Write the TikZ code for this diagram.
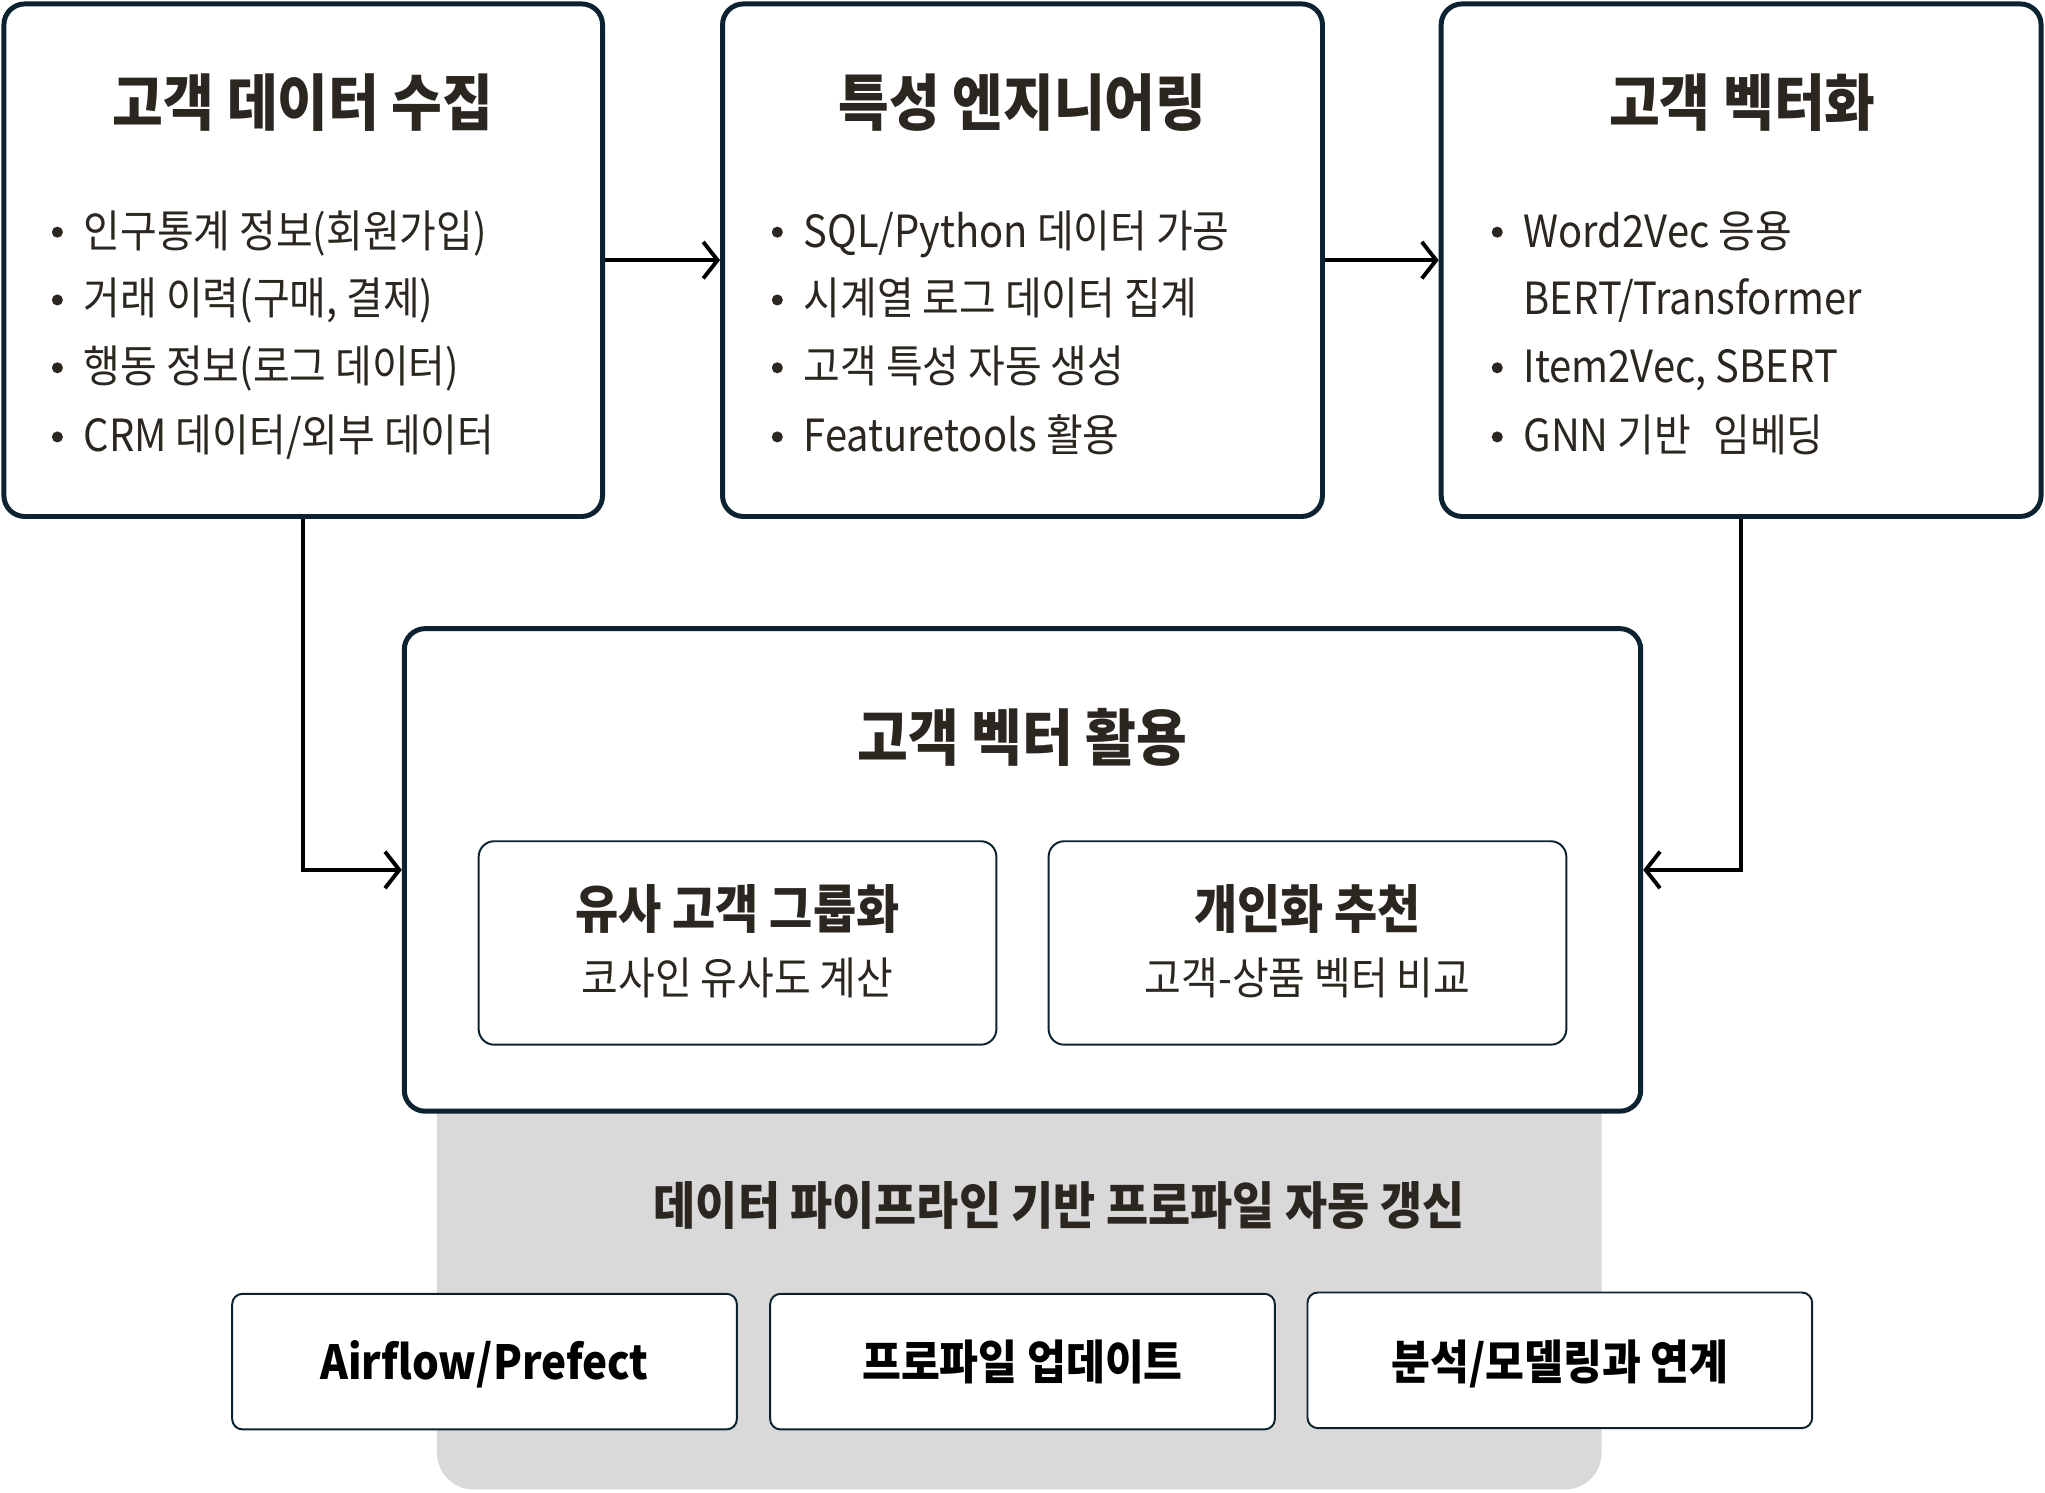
\documentclass[tikz,border=0pt]{standalone}
\usepackage{fontspec}
\setmainfont{Noto Sans CJK KR}[FakeStretch=0.9]
\usetikzlibrary{arrows.meta}
\definecolor{edge}{HTML}{0B2231}
\definecolor{ink}{HTML}{2B2620}
\definecolor{band}{HTML}{D9D9D9}
\newcommand{\fs}[1]{\fontsize{#1}{#1}\selectfont}
\begin{document}
\begin{tikzpicture}[x=1pt,y=-1pt,
  bigbox/.style={draw=edge, line width=3.8pt, rounded corners=16pt, fill=white, inner sep=0pt},
  subbox/.style={draw=edge, line width=1.5pt, rounded corners=12pt, fill=white, inner sep=0pt},
  toolbox/.style={draw=edge, line width=1.5pt, rounded corners=8pt, fill=white, inner sep=0pt,
    minimum width=387pt, minimum height=104pt},
  tooltext/.style={font=\bfseries\fs{36}, text=black, inner sep=0pt, text height=0.8em, text depth=0.2em, yshift=-10pt},
  bandbox/.style={fill=band, rounded corners=28pt, inner sep=0pt},
  titletext/.style={font=\bfseries\fs{47}, text=ink, inner sep=0pt, text height=0.8em, text depth=0.2em, yshift=-13pt},
  itemtext/.style={font=\fs{34}, text=ink, inner sep=0pt, anchor=west, text height=0.8em, text depth=0.2em, yshift=-9.5pt},
  dot/.style={circle, fill=ink, inner sep=0pt, minimum size=8.5pt},
  subtitle/.style={font=\bfseries\fs{40}, text=ink, inner sep=0pt, text height=0.8em, text depth=0.2em, yshift=-11pt},
  bandtitle/.style={font=\bfseries\fs{39}, text=ink, inner sep=0pt, text height=0.8em, text depth=0.2em, yshift=-11pt},
  subtext/.style={font=\fs{34}, text=ink, inner sep=0pt, text height=0.8em, text depth=0.2em, yshift=-9.5pt},
  conn/.style={draw=black, line width=3pt, -{Straight Barb[length=11pt,width=28pt,line width=3pt]}}
]
\useasboundingbox (0,0) rectangle (1568,1144);
\fill[white] (0,0) rectangle (1568,1144);

% gray band
\node[bandbox, minimum width=893pt, minimum height=440pt] (band) at (781.5,922) {};

% top boxes
\node[bigbox, minimum width=459pt, minimum height=393pt] (b1) at (232.5,199.5) {};
\node[bigbox, minimum width=460pt, minimum height=393pt] (b2) at (784,199.5) {};
\node[bigbox, minimum width=460pt, minimum height=393pt] (b3) at (1335,199.5) {};

\node[titletext] (t1) at (232.5,80) {고객 데이터 수집};
\node[titletext] (t2) at (784,80) {특성 엔지니어링};
\node[titletext] (t3) at (1336,80) {고객 벡터화};

% box 1 items
\node[dot] (d11) at (44,178) {};
\node[dot] (d12) at (44,230) {};
\node[dot] (d13) at (44,282) {};
\node[dot] (d14) at (44,335) {};
\node[itemtext] (i11) at (64,177) {인구통계 정보(회원가입)};
\node[itemtext] (i12) at (64,229) {거래 이력(구매, 결제)};
\node[itemtext] (i13) at (64,281) {행동 정보(로그 데이터)};
\node[itemtext] (i14) at (64,334) {CRM 데이터/외부 데이터};

% box 2 items
\node[dot] (d21) at (596,178) {};
\node[dot] (d22) at (596,230) {};
\node[dot] (d23) at (596,282) {};
\node[dot] (d24) at (596,335) {};
\node[itemtext] (i21) at (616,177) {SQL/Python 데이터 가공};
\node[itemtext] (i22) at (616,229) {시계열 로그 데이터 집계};
\node[itemtext] (i23) at (616,281) {고객 특성 자동 생성};
\node[itemtext] (i24) at (616,334) {Featuretools 활용};

% box 3 items
\node[dot] (d31) at (1148,178) {};
\node[dot] (d33) at (1148,282) {};
\node[dot] (d34) at (1148,335) {};
\node[itemtext] (i31) at (1168,177) {Word2Vec 응용};
\node[itemtext] (i32) at (1168,229) {BERT/Transformer};
\node[itemtext] (i33) at (1168,281) {Item2Vec, SBERT};
\node[itemtext] (i34) at (1168,334) {GNN 기반\hspace{0.3em} 임베딩};

% usage box
\node[bigbox, minimum width=948pt, minimum height=370pt] (b4) at (784,667) {};
\node[titletext] (t4) at (784,567) {고객 벡터 활용};
\node[subbox, minimum width=397pt, minimum height=156pt] (s1) at (565.5,723) {};
\node[subbox, minimum width=397pt, minimum height=156pt] (s2) at (1002.5,723) {};
\node[subtitle] (s1t) at (565.5,698) {유사 고객 그룹화};
\node[subtext] (s1s) at (565.5,750) {코사인 유사도 계산};
\node[subtitle] (s2t) at (1002.5,698) {개인화 추천};
\node[subtext] (s2s) at (1002.5,750) {고객-상품 벡터 비교};

% band content
\node[bandtitle] (bt) at (812,925) {데이터 파이프라인 기반 프로파일 자동 갱신};
\node[toolbox] (k1) at (371.5,1044) {};
\node[toolbox] (k2) at (784,1044) {};
\node[toolbox] (k3) at (1196,1043) {};
\node[tooltext] (k1t) at (371.5,1045) {Airflow/Prefect};
\node[tooltext] (k2t) at (784,1045) {프로파일 업데이트};
\node[tooltext] (k3t) at (1196,1045) {분석/모델링과 연계};

% connectors
\draw[conn] (b1.east) -- (b2.west);
\draw[conn] (b2.east) -- (b3.west);
\draw[conn] (b1.south) |- (b4.west);
\draw[conn] (b3.south) |- (b4.east);
\end{tikzpicture}
\end{document}
